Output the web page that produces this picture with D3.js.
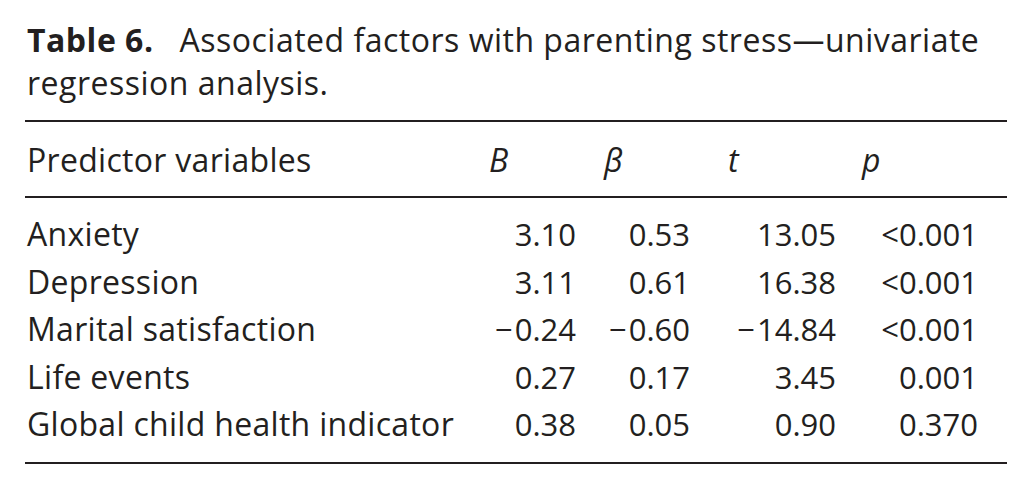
<!DOCTYPE html>
<html>
<head>
<meta charset="utf-8">
<script src="https://cdn.jsdelivr.net/npm/d3@7"></script>
<style>
  body { margin: 0; background: #fff; }
  text { font-family: "Open Sans", Lato, sans-serif; fill: #231f20; }
  .word { font-size: 32px; letter-spacing: 0.3px; }
  .title { letter-spacing: 0.5px; }
  .num { font-size: 31px; }
</style>
</head>
<body>
<div id="chart"></div>
<script>
// table content
var titleBold = "Table 6.";
var titleLines = ["Associated factors with parenting stress\u2014univariate", "regression analysis."];
var headers = ["Predictor variables", "B", "\u03b2", "t", "p"];
var predictors = ["Anxiety", "Depression", "Marital satisfaction", "Life events", "Global child health indicator"];
var valB = ["3.10", "3.11", "\u22120.24", "0.27", "0.38"];
var valBeta = ["0.53", "0.61", "\u22120.60", "0.17", "0.05"];
var valT = ["13.05", "16.38", "\u221214.84", "3.45", "0.90"];
var valP = ["<0.001", "<0.001", "<0.001", "0.001", "0.370"];

var width = 1033, height = 490;

var svg = d3.select("#chart")
    .append("svg")
    .attr("width", width)
    .attr("height", height);

// column geometry: header left edge and value right edge
var cols = [
    { key: "B", values: valB, head: 489, right: 576 },
    { key: "beta", values: valBeta, head: 604, right: 690 },
    { key: "t", values: valT, head: 728, right: 836 },
    { key: "p", values: valP, head: 862, right: 978 }
];

// row positions (baselines)
var y = d3.scalePoint()
    .domain(predictors)
    .range([246, 436]);

// rules
var rules = [121, 197, 463];
svg.selectAll(".rule")
    .data(rules)
    .enter()
    .append("line")
    .attr("class", "rule")
    .attr("x1", 25)
    .attr("x2", 1007)
    .attr("y1", function(d) { return d; })
    .attr("y2", function(d) { return d; })
    .attr("stroke", "#231f20")
    .attr("stroke-width", 2);

// title
var t1 = svg.append("text")
    .attr("class", "word title")
    .attr("x", 27)
    .attr("y", 52);
t1.append("tspan").attr("font-weight", "bold").text(titleBold);
t1.append("tspan").attr("dx", 26).text(titleLines[0]);

svg.append("text")
    .attr("class", "word title")
    .attr("x", 27)
    .attr("y", 95)
    .text(titleLines[1]);

// header row
svg.append("text")
    .attr("class", "word")
    .attr("x", 27)
    .attr("y", 172)
    .text(headers[0]);

svg.selectAll(".head")
    .data(cols)
    .enter()
    .append("text")
    .attr("class", "head word")
    .attr("x", function(d) { return d.head; })
    .attr("y", 172)
    .style("font-style", "italic")
    .text(function(d, i) { return headers[i + 1]; });

// predictor labels
svg.selectAll(".pred")
    .data(predictors)
    .enter()
    .append("text")
    .attr("class", "pred word")
    .attr("x", 27)
    .attr("y", function(d) { return y(d); })
    .text(function(d) { return d; });

// values (a leading minus gets a little extra room)
cols.forEach(function(c) {
    var cell = svg.selectAll(".v-" + c.key)
        .data(c.values)
        .enter()
        .append("text")
        .attr("class", "num v-" + c.key)
        .attr("x", c.right)
        .attr("y", function(d, i) { return y(predictors[i]); })
        .attr("text-anchor", "end");
    cell.filter(function(d) { return d.charAt(0) === "\u2212"; })
        .append("tspan")
        .style("letter-spacing", "2px")
        .text("\u2212");
    cell.append("tspan")
        .text(function(d) { return d.charAt(0) === "\u2212" ? d.slice(1) : d; });
});
</script>
</body>
</html>
